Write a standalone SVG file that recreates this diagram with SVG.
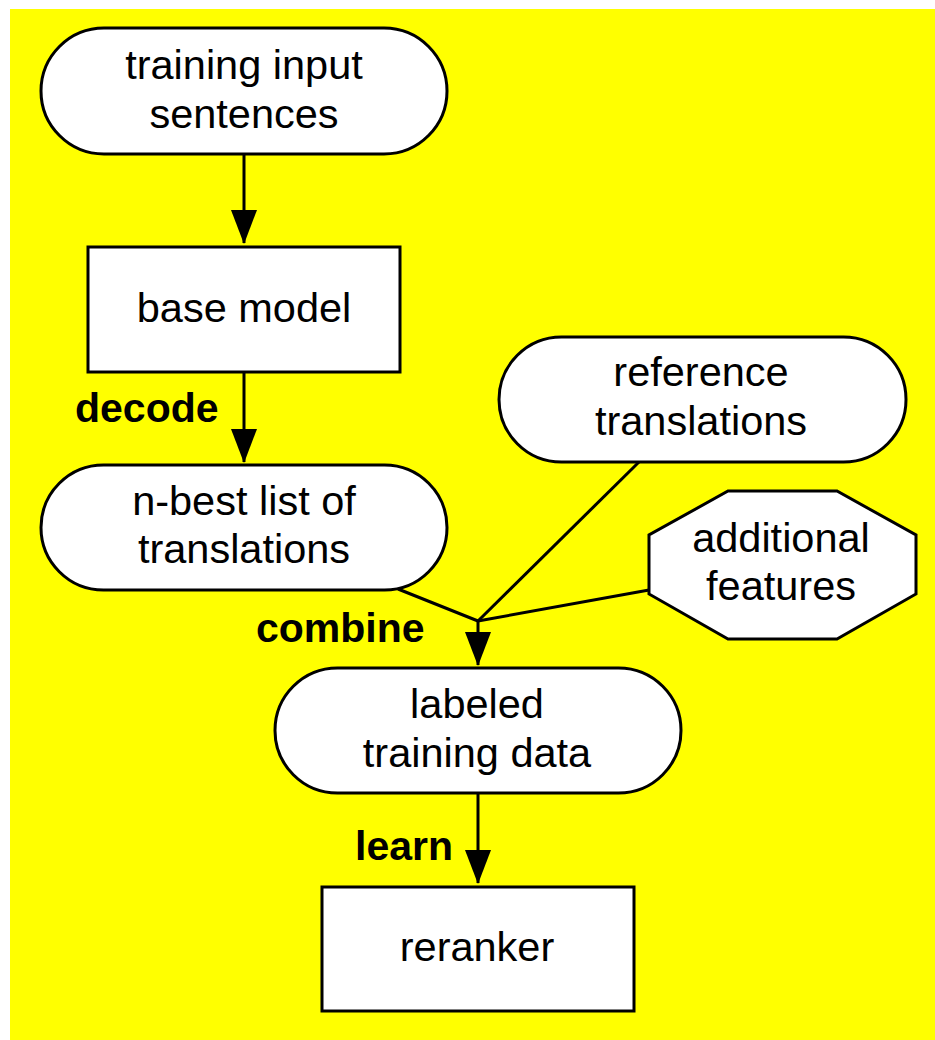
<svg xmlns="http://www.w3.org/2000/svg" width="935" height="1040" viewBox="0 0 935 1040">
<defs>
<marker id="arr" markerUnits="userSpaceOnUse" markerWidth="34" markerHeight="26" refX="33" refY="13" orient="auto">
<path d="M0,0 L34,13 L0,26 z" fill="#000"/>
</marker>
<style>
.node{fill:#fff;stroke:#000;stroke-width:3}
.t{font-family:"Liberation Sans",Arial,Helvetica,sans-serif;font-size:41.5px;text-anchor:middle;fill:#000}
.lbl{font-family:"Liberation Sans",Arial,Helvetica,sans-serif;font-size:41px;font-weight:bold;fill:#000}
.c{fill:none;stroke:#000;stroke-width:3}
</style>
</defs>
<rect x="0" y="0" width="935" height="1040" fill="#fff"/>
<rect x="10" y="9" width="925" height="1031" fill="#ffff00"/>
<g id="connectors">
<line class="c" x1="244" y1="154" x2="244" y2="243" marker-end="url(#arr)"/>
<line class="c" x1="244" y1="372" x2="244" y2="462" marker-end="url(#arr)"/>
<polyline class="c" points="398,589 478,621"/>
<polyline class="c" points="639,462 478,621"/>
<polyline class="c" points="649,590 478,621"/>
<line class="c" x1="478" y1="621" x2="478" y2="665" marker-end="url(#arr)"/>
<line class="c" x1="478" y1="793" x2="478" y2="883" marker-end="url(#arr)"/>
<text class="lbl" x="75" y="422">decode</text>
<text class="lbl" x="256" y="642">combine</text>
<text class="lbl" x="355" y="860">learn</text>
</g>
<g id="training-input">
<rect class="node" x="41" y="28" width="406" height="126" rx="63" ry="63"/>
<text class="t" x="244" y="79">training input</text>
<text class="t" x="244" y="128">sentences</text>
</g>
<g id="base-model">
<rect class="node" x="88" y="247" width="312" height="125"/>
<text class="t" x="244" y="322">base model</text>
</g>
<g id="nbest">
<rect class="node" x="41" y="465" width="406" height="125" rx="62.5" ry="62.5"/>
<text class="t" x="244" y="515">n-best list of</text>
<text class="t" x="244" y="563">translations</text>
</g>
<g id="reference">
<rect class="node" x="499" y="337" width="407" height="125" rx="62.5" ry="62.5"/>
<text class="t" x="701" y="386">reference</text>
<text class="t" x="701" y="435">translations</text>
</g>
<g id="additional">
<polygon class="node" points="728,491 837,491 916,535 916,594 837,639 728,639 649,594 649,535"/>
<text class="t" x="781" y="552">additional</text>
<text class="t" x="781" y="600">features</text>
</g>
<g id="labeled">
<rect class="node" x="275" y="668" width="406" height="125" rx="62.5" ry="62.5"/>
<text class="t" x="477" y="718">labeled</text>
<text class="t" x="477" y="767">training data</text>
</g>
<g id="reranker">
<rect class="node" x="322" y="887" width="312" height="124"/>
<text class="t" x="477" y="961">reranker</text>
</g>
</svg>
